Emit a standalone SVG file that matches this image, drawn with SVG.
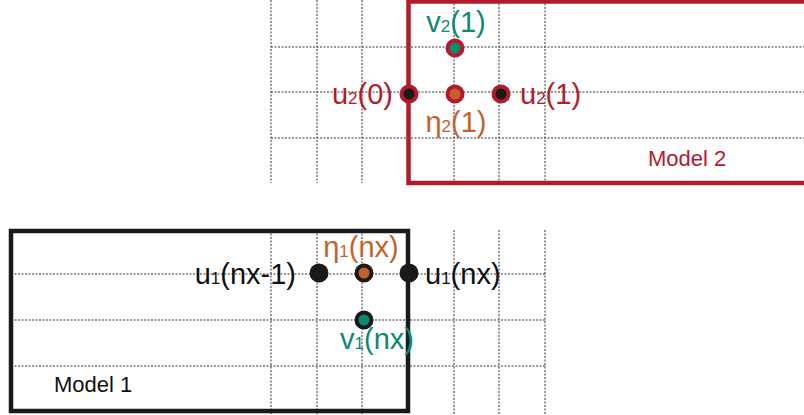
<svg xmlns="http://www.w3.org/2000/svg" width="804" height="415" viewBox="0 0 804 415">
<style>
.grid{stroke:#333;stroke-width:1;stroke-dasharray:2 1.5;fill:none}
.lbl{font-family:"Liberation Sans",Arial,sans-serif;font-size:29px}
.sub{font-size:17px}
.red{fill:#b31b2c}
.blk{fill:#111}
.grn{fill:#0b8a6d}
.org{fill:#c4622d}
.model{font-family:"Liberation Sans",Arial,sans-serif;font-size:22px}
</style>
<rect width="804" height="415" fill="#fff"/>
<g id="grid-top" class="grid">
<path d="M271 0V183M317 0V183M362 0V183M454 0V183M499 0V183M545 0V183"/>
<path d="M271 47H804M271 92H804M271 138H804"/>
</g>
<g id="grid-bottom" class="grid">
<path d="M271 230V415M317 230V415M362 230V415M454 230V415M499 230V415M545 230V415"/>
<path d="M11 274H545M11 320H545M11 366H545"/>
</g>
<g id="model2">
<rect x="408.5" y="1.5" width="420" height="181.5" fill="none" stroke="#b31b2c" stroke-width="4.5"/>
<text class="model red" x="648" y="166">Model 2</text>
</g>
<g id="model1">
<rect x="11" y="231" width="397" height="180" fill="none" stroke="#1a1a1a" stroke-width="4.5"/>
<text class="model blk" x="54" y="392">Model 1</text>
</g>
<g id="u2_0">
<circle cx="409" cy="94" r="7.5" fill="#1a1a1a" stroke="#b31b2c" stroke-width="4"/>
<text class="lbl red" x="393" y="104" text-anchor="end">u<tspan class="sub">2</tspan>(0)</text>
</g>
<g id="v2_1">
<circle cx="455" cy="48" r="7.5" fill="#0b8a6d" stroke="#b31b2c" stroke-width="4"/>
<text class="lbl grn" x="456" y="32" text-anchor="middle">v<tspan class="sub">2</tspan>(1)</text>
</g>
<g id="eta2_1">
<circle cx="455" cy="94" r="7.5" fill="#c4622d" stroke="#b31b2c" stroke-width="4"/>
<text class="lbl org" x="456" y="132" text-anchor="middle">η<tspan class="sub">2</tspan>(1)</text>
</g>
<g id="u2_1">
<circle cx="501" cy="94" r="7.5" fill="#1a1a1a" stroke="#b31b2c" stroke-width="4"/>
<text class="lbl red" x="520" y="104">u<tspan class="sub">2</tspan>(1)</text>
</g>
<g id="u1_nxm1">
<circle cx="319" cy="273" r="9.5" fill="#1a1a1a"/>
<text class="lbl blk" x="296" y="284" text-anchor="end">u<tspan class="sub">1</tspan>(nx-1)</text>
</g>
<g id="eta1_nx">
<circle cx="364" cy="273" r="7.5" fill="#c4622d" stroke="#1a1a1a" stroke-width="4"/>
<text class="lbl org" x="361" y="257" text-anchor="middle">η<tspan class="sub">1</tspan>(nx)</text>
</g>
<g id="u1_nx">
<circle cx="409" cy="273" r="9.5" fill="#1a1a1a"/>
<text class="lbl blk" x="425" y="284">u<tspan class="sub">1</tspan>(nx)</text>
</g>
<g id="v1_nx">
<circle cx="364" cy="320" r="7.5" fill="#0b8a6d" stroke="#1a1a1a" stroke-width="4"/>
<text class="lbl grn" x="377" y="349" text-anchor="middle">v<tspan class="sub">1</tspan>(nx)</text>
</g>
</svg>
